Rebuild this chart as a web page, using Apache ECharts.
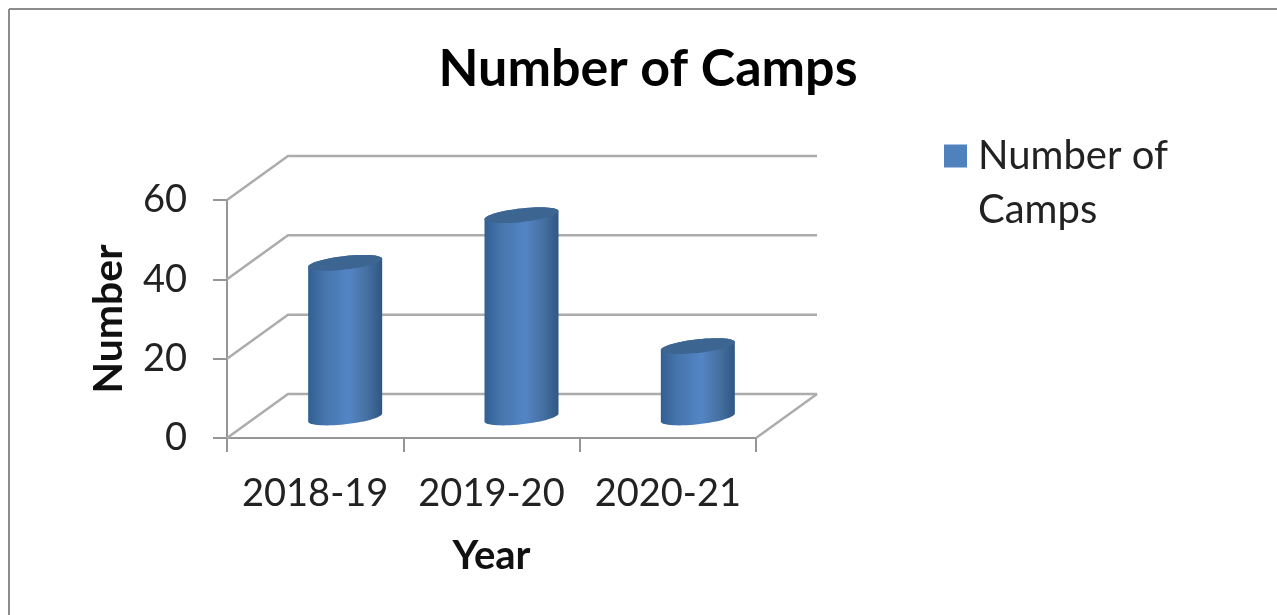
<!DOCTYPE html>
<html><head><meta charset="utf-8">
<style>html,body{margin:0;padding:0;background:#fff}#c{width:1277px;height:615px}</style>
<script src="https://cdn.jsdelivr.net/npm/echarts@6/dist/echarts.min.js"></script>
</head><body><div id="c"></div>
<script>
const categories = ['2018-19', '2019-20', '2020-21'];
const campCounts = [39, 51, 18];
const yTicks = [0, 20, 40, 60];
const seriesName = 'Number of Camps';
const chartTitle = 'Number of Camps';
const xName = 'Year';
const yName = 'Number';

const FONT = 'Lato';
const DEPTH_X = 61, DEPTH_Y = -44;
const BAR_SHIFT_X = 30, BAR_SHIFT_Y = -20.5;
const RX = 37, KY = 4, RY = 6.8;

function ellipsePts(cx, cy, from, to, n) {
  const pts = [];
  for (let i = 0; i <= n; i++) {
    const t = from + (to - from) * i / n;
    pts.push([cx + RX * Math.cos(t), cy - KY * Math.cos(t) + RY * Math.sin(t)]);
  }
  return pts;
}

const chart = echarts.init(document.getElementById('c'), null, {renderer: 'canvas'});
chart.setOption({
  animation: false,
  backgroundColor: '#fff',
  title: {
    text: chartTitle, left: 648, top: 38, textAlign: 'center',
    textStyle: {fontFamily: FONT, fontSize: 52, fontWeight: 'bold', color: '#000'},
    padding: [5, 10, 5, 0]
  },
  legend: {
    left: 944, top: 129, padding: 0, orient: 'vertical', itemWidth: 23, itemHeight: 77, itemGap: 0,
    data: [{name: seriesName, icon: 'path://M0,0H23V23H0Z M23,77Z', itemStyle: {color: '#4f81bd'}}],
    formatter: n => n.replace(' of ', ' of\n'),
    textStyle: {fontFamily: FONT, fontSize: 40, lineHeight: 54, color: '#222', padding: [0, 0, 0, 6]}
  },
  grid: {left: 227, top: 200, width: 529, height: 238, containLabel: false},
  xAxis: {
    type: 'category', data: categories,
    name: xName, nameLocation: 'middle', nameGap: 98,
    nameTextStyle: {fontFamily: FONT, fontSize: 40, fontWeight: 'bold', color: '#111'},
    axisLine: {show: true, onZero: false, lineStyle: {color: '#969696', width: 2}},
    axisTick: {show: true, length: 14, lineStyle: {color: '#969696', width: 2}},
    axisLabel: {fontFamily: FONT, fontSize: 38, color: '#222', margin: 37, interval: 0}
  },
  yAxis: {
    type: 'value', min: 0, max: 60, interval: 20,
    name: yName, nameLocation: 'middle', nameGap: 98,
    nameTextStyle: {fontFamily: FONT, fontSize: 41, fontWeight: 'bold', color: '#111'},
    axisLine: {show: true, onZero: false, lineStyle: {color: '#969696', width: 2}},
    axisTick: {show: true, length: 14, lineStyle: {color: '#969696', width: 2}},
    axisLabel: {fontFamily: FONT, fontSize: 38, color: '#222', margin: 40},
    splitLine: {show: false}
  },
  graphic: [
    {type: 'line', silent: true, shape: {x1: 9, y1: 9, x2: 1277, y2: 9}, style: {stroke: '#8c8c8c', lineWidth: 2}},
    {type: 'line', silent: true, shape: {x1: 9, y1: 9, x2: 9, y2: 615}, style: {stroke: '#8c8c8c', lineWidth: 2}}
  ],
  series: [
    {
      type: 'custom', name: 'walls', coordinateSystem: 'cartesian2d', silent: true, z: 1,
      data: yTicks.map(v => [0, v]),
      encode: {x: 0, y: 1},
      renderItem(params, api) {
        const band = api.size([1, 0])[0];
        const p = api.coord([0, api.value(1)]);
        const x0 = p[0] - band / 2, y = p[1];
        const xEnd = api.coord([categories.length - 1, 0])[0] + band / 2;
        const style = {stroke: '#acacac', lineWidth: 2.5, fill: null};
        const children = [
          {type: 'polyline', shape: {points: [[x0, y], [x0 + DEPTH_X, y + DEPTH_Y], [xEnd + DEPTH_X, y + DEPTH_Y]]}, style}
        ];
        if (api.value(1) === 0) {
          children.push({type: 'line', shape: {x1: xEnd, y1: y, x2: xEnd + DEPTH_X, y2: y + DEPTH_Y}, style});
        }
        return {type: 'group', children};
      }
    },
    {
      type: 'custom', name: seriesName, coordinateSystem: 'cartesian2d', silent: true, z: 3,
      itemStyle: {color: '#4f81bd'},
      data: campCounts.map((v, i) => [i, v]),
      encode: {x: 0, y: 1},
      renderItem(params, api) {
        const base = api.coord([api.value(0), 0]);
        const top = api.coord([api.value(0), api.value(1)]);
        const cx = base[0] + BAR_SHIFT_X;
        const yb = base[1] + BAR_SHIFT_Y, yt = top[1] + BAR_SHIFT_Y;
        const bodyPts = ellipsePts(cx, yt, Math.PI, 2 * Math.PI, 30)
          .concat(ellipsePts(cx, yb, 0, Math.PI, 30));
        const fill = new echarts.graphic.LinearGradient(0, 0, 1, 0, [
          {offset: 0, color: '#315f92'},
          {offset: 0.22, color: '#4675ac'},
          {offset: 0.55, color: '#5385c6'},
          {offset: 0.8, color: '#456f9f'},
          {offset: 1, color: '#2f5785'}
        ]);
        return {type: 'group', children: [
          {type: 'polygon', shape: {points: bodyPts}, style: {fill}},
          {type: 'polygon', shape: {points: ellipsePts(cx, yt, 0, 2 * Math.PI, 60)}, style: {fill: '#3c6592'}}
        ]};
      }
    }
  ]
});
</script></body></html>
